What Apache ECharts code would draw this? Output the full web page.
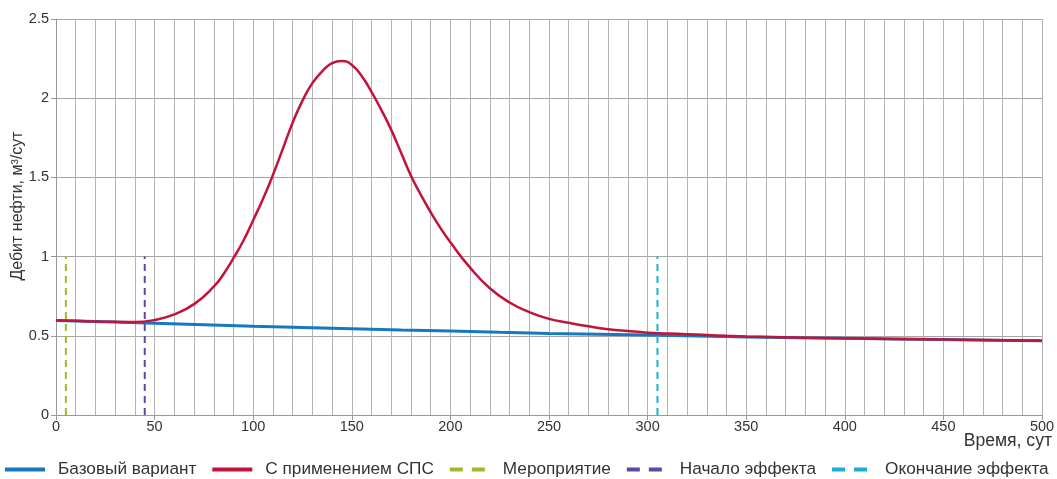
<!DOCTYPE html>
<html>
<head>
<meta charset="utf-8">
<script src="https://cdn.jsdelivr.net/npm/echarts@6/dist/echarts.min.js"></script>
<style>
html,body{margin:0;padding:0;background:#fff;}
#chart{width:1057px;height:479px;}
</style>
</head>
<body>
<div id="chart"></div>
<script>
// ---- data ----
const baseDays   = [0, 25, 50, 75, 100, 125, 150, 175, 200, 225, 250, 275, 300, 325, 350, 375, 400, 425, 450, 475, 500];
const baseValues = [0.597, 0.589, 0.58, 0.57, 0.56, 0.552, 0.544, 0.536, 0.53, 0.522, 0.515, 0.51, 0.505, 0.499, 0.493, 0.488, 0.484, 0.48, 0.476, 0.472, 0.468];

const spsDays   = [0, 10, 20, 30, 40, 50, 60, 70, 80, 85, 90, 95, 100, 105, 110, 115, 120, 125, 130, 135, 140, 145, 150, 155, 160, 165, 170, 175, 180, 185, 190, 195, 200, 210, 220, 230, 240, 250, 260, 270, 280, 290, 300, 310, 320, 330, 340, 350, 375, 400, 450, 500];
const spsValues = [0.597, 0.595, 0.59, 0.588, 0.587, 0.60, 0.635, 0.70, 0.81, 0.89, 0.99, 1.10, 1.23, 1.365, 1.515, 1.68, 1.845, 1.985, 2.095, 2.17, 2.222, 2.235, 2.21, 2.14, 2.04, 1.925, 1.80, 1.655, 1.51, 1.39, 1.28, 1.18, 1.09, 0.93, 0.80, 0.71, 0.65, 0.607, 0.582, 0.56, 0.542, 0.53, 0.52, 0.515, 0.51, 0.505, 0.50, 0.496, 0.49, 0.484, 0.476, 0.468];

const eventDay = 5;        // Мероприятие
const effectStartDay = 45; // Начало эффекта
const effectEndDay = 305;  // Окончание эффекта
const markerTop = 1;

const seriesNames = ['Базовый вариант', 'С применением СПС', 'Мероприятие', 'Начало эффекта', 'Окончание эффекта'];
const xTicks = {min: 0, max: 500, interval: 50};
const yTicks = {min: 0, max: 2.5, interval: 0.5};

// ---- build ----
const pairs = (xs, ys) => xs.map((x, i) => [x, ys[i]]);
const vline = d => [[d, 0], [d, markerTop]];
const font = '"Liberation Sans", Arial, sans-serif';
const textColor = '#333';
const colors = ['#1679c0', '#c2133b', '#9bbb2a', '#5a4aa6', '#1caed5'];

const chart = echarts.init(document.getElementById('chart'), null, {renderer: 'canvas'});
chart.setOption({
  animation: false,
  backgroundColor: '#fff',
  textStyle: {fontFamily: font},
  grid: {left: 56, right: 15, top: 19, bottom: 64, containLabel: false, outerBoundsMode: 'none'},
  legend: {
    top: 461, left: 3, width: 1054, padding: 0,
    itemWidth: 40, itemHeight: 14, itemGap: 14,
    itemStyle: {opacity: 0},
    textStyle: {fontFamily: font, fontSize: 17.2, color: textColor, padding: [0, 0, 0, 8]},
    data: seriesNames.map((n, i) => ({
      name: n,
      lineStyle: {width: 4, type: i < 2 ? 'solid' : [13, 9]}
    }))
  },
  xAxis: {
    type: 'value', min: xTicks.min, max: xTicks.max, interval: xTicks.interval,
    splitNumber: 5,
    name: 'Время, сут', nameLocation: 'end', nameGap: 10, nameMoveOverlap: false,
    nameTextStyle: {fontFamily: font, fontSize: 17.6, color: textColor, align: 'right', verticalAlign: 'top', padding: [17, 0, 0, 0]},
    axisLine: {lineStyle: {color: '#999', width: 1}},
    axisTick: {show: true, length: 5, lineStyle: {color: '#999'}},
    axisLabel: {fontFamily: font, fontSize: 14.5, color: textColor, margin: 4},
    splitLine: {show: true, lineStyle: {color: '#b3b3b3', width: 1}},
    minorTick: {show: false, splitNumber: 5},
    minorSplitLine: {show: true, lineStyle: {color: '#b3b3b3', width: 1}}
  },
  yAxis: {
    type: 'value', min: yTicks.min, max: yTicks.max, interval: yTicks.interval,
    name: 'Дебит нефти, м³/сут', nameLocation: 'middle', nameGap: 30, nameMoveOverlap: false,
    nameTextStyle: {fontFamily: font, fontSize: 16, color: textColor, padding: [0, 0, 0, 22]},
    axisLine: {show: true, lineStyle: {color: '#999', width: 1}},
    axisTick: {show: true, length: 5, lineStyle: {color: '#999'}},
    axisLabel: {fontFamily: font, fontSize: 14.5, color: textColor, margin: 7},
    splitLine: {show: true, lineStyle: {color: '#a6a6a6', width: 1}}
  },
  series: [
    {
      name: seriesNames[0], type: 'line', data: pairs(baseDays, baseValues),
      symbol: 'none', showSymbol: false, smooth: false, z: 3,
      color: colors[0], lineStyle: {color: colors[0], width: 3}
    },
    {
      name: seriesNames[1], type: 'line', data: pairs(spsDays, spsValues),
      symbol: 'none', showSymbol: false, smooth: 0.5, z: 4,
      color: colors[1], lineStyle: {color: colors[1], width: 2.5}
    },
    {
      name: seriesNames[2], type: 'line', data: vline(eventDay),
      symbol: 'none', showSymbol: false, z: 5,
      color: colors[2], lineStyle: {color: colors[2], width: 2, type: [7, 5]}
    },
    {
      name: seriesNames[3], type: 'line', data: vline(effectStartDay),
      symbol: 'none', showSymbol: false, z: 5,
      color: colors[3], lineStyle: {color: colors[3], width: 2, type: [7, 5]}
    },
    {
      name: seriesNames[4], type: 'line', data: vline(effectEndDay),
      symbol: 'none', showSymbol: false, z: 5,
      color: colors[4], lineStyle: {color: colors[4], width: 2, type: [7, 5]}
    }
  ]
});
</script>
</body>
</html>
